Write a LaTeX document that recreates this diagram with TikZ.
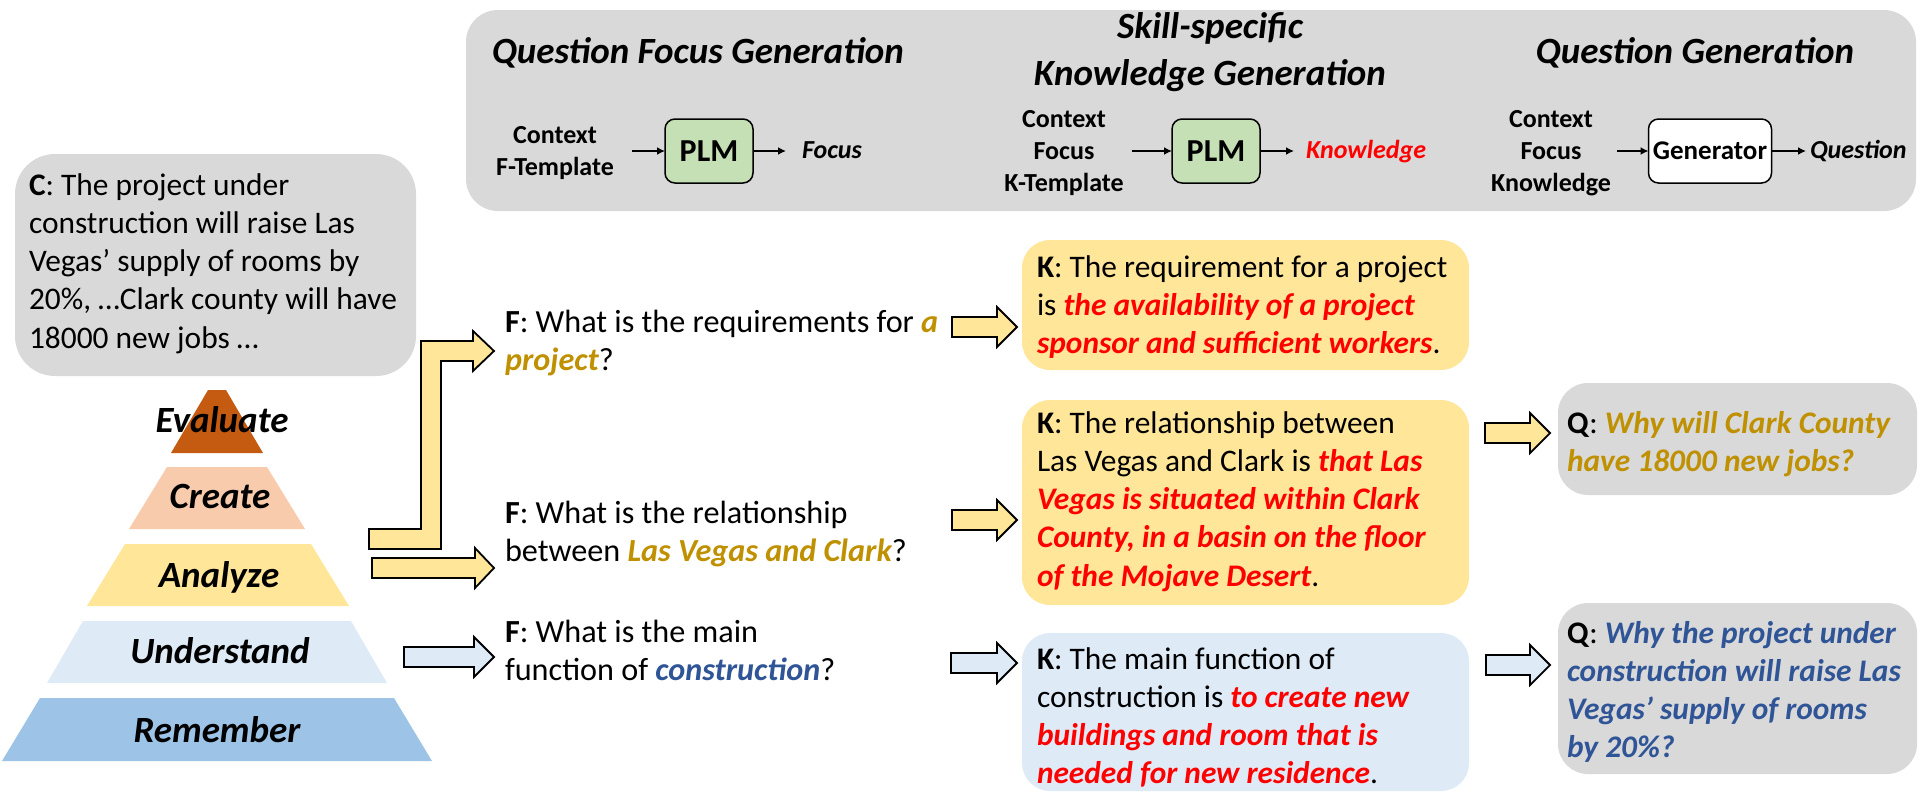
\documentclass[tikz,border=0pt]{standalone}
\usepackage{fontspec}
\setmainfont{Carlito}
\usetikzlibrary{arrows.meta}

% palette
\definecolor{boxgray}{HTML}{D9D9D9}
\definecolor{plmgreen}{HTML}{C5E0B4}
\definecolor{kyellow}{HTML}{FFE699}
\definecolor{kblue}{HTML}{DEEBF7}
\definecolor{redtxt}{HTML}{FF0000}
\definecolor{goldtxt}{HTML}{BF9000}
\definecolor{bluetxt}{HTML}{2F5597}
\definecolor{evalc}{HTML}{C55A11}
\definecolor{createc}{HTML}{F8CBAD}
\definecolor{analyzec}{HTML}{FFE699}
\definecolor{underc}{HTML}{DEEBF7}
\definecolor{rememberc}{HTML}{9DC3E6}

% type sizes
\newcommand\bodyfont{\fontsize{31.4pt}{38.3pt}\selectfont}
\newcommand\focusfont{\fontsize{32.2pt}{38.3pt}\selectfont}
\newcommand\headfont{\fontsize{37pt}{47pt}\selectfont\bfseries\itshape}
\newcommand\tagfont{\fontsize{26pt}{32pt}\selectfont\bfseries}
\newcommand\modelfont{\fontsize{32pt}{38pt}\selectfont\bfseries}

% multi-line text whose baseline is the first line
\newcommand\lines[1]{\begin{tabular}[t]{@{}l@{}}#1\end{tabular}}
\newcommand\clines[1]{\begin{tabular}[t]{@{}c@{}}#1\end{tabular}}

% highlighted phrases
\newcommand\hlred[1]{\textcolor{redtxt}{\bfseries\itshape #1}}
\newcommand\hlgold[1]{\textcolor{goldtxt}{\bfseries\itshape #1}}
\newcommand\hlblue[1]{\textcolor{bluetxt}{\bfseries\itshape #1}}

% outlined block arrow: fill, tail x, tip x, centre y, head base x
\newcommand\blockarrow[5]{%
  \draw[blockline, fill=#1] (#2,#4-10) -- (#5,#4-10) -- (#5,#4-20) -- (#3,#4)
    -- (#5,#4+20) -- (#5,#4+10) -- (#2,#4+10) -- cycle;}

\tikzset{
  panel/.style={fill=#1, draw=none, inner sep=0pt, outer sep=0pt, anchor=north west, rounded corners=28pt},
  textblock/.style={anchor=base west, inner sep=0pt, outer sep=0pt, font=\bodyfont},
  heading/.style={anchor=base, inner sep=0pt, outer sep=0pt, font=\headfont},
  tag/.style={anchor=base, inner sep=0pt, outer sep=0pt, font=\tagfont},
  model/.style={draw=black, line width=1.5pt, rounded corners=10pt, minimum height=64pt,
                inner sep=0pt, outer sep=0pt, font=\modelfont},
  flow/.style={-{Latex[length=8pt,width=8pt]}, line width=1.8pt},
  blockline/.style={draw=black, line width=1.8pt, line join=miter},
  level/.style={anchor=base, inner sep=0pt, outer sep=0pt, font=\headfont},
}

\begin{document}
\begin{tikzpicture}[x=1pt,y=-1pt]
\useasboundingbox (0,0) rectangle (1923,796);

% ---------- pipeline panel ----------
\node[panel=boxgray, minimum width=1450pt, minimum height=201pt, rounded corners=32pt] (stages) at (466,10) {};

\node[heading] (hfocus) at (698,63) {Question Focus Generation};
\node[heading] (hknow) at (1210,38) {\clines{Skill-specific\\Knowledge Generation}};
\node[heading] (hquest) at (1695,63) {Question Generation};

\node[tag] (in1) at (555,143) {\clines{Context\\F-Template}};
\node[model, fill=plmgreen, minimum width=88pt] (plm1) at (709,151) {PLM};
\node[tag, anchor=base west, font=\tagfont\itshape] (out1) at (802,158) {Focus};
\draw[flow, shorten <=18pt] (plm1.west -| in1.east) -- (plm1.west);
\draw[flow, shorten >=16pt] (plm1.east) -- (plm1.east -| out1.west);

\node[tag] (in2) at (1064,127) {\clines{Context\\Focus\\K-Template}};
\node[model, fill=plmgreen, minimum width=88pt] (plm2) at (1216,151) {PLM};
\node[tag, anchor=base west, font=\tagfont\itshape, text=redtxt] (out2) at (1306,158) {Knowledge};
\draw[flow, shorten <=8pt] (plm2.west -| in2.east) -- (plm2.west);
\draw[flow, shorten >=12pt] (plm2.east) -- (plm2.east -| out2.west);

\node[tag] (in3) at (1551,127) {\clines{Context\\Focus\\Knowledge}};
\node[model, fill=white, minimum width=123pt, font=\fontsize{27pt}{32pt}\selectfont\bfseries] (gen) at (1710,151) {Generator};
\node[tag, anchor=base west, font=\tagfont\itshape] (out3) at (1810,158) {Question};
\draw[flow, shorten <=6pt] (gen.west -| in3.east) -- (gen.west);
\draw[flow, shorten >=4pt] (gen.east) -- (gen.east -| out3.west);

% ---------- context ----------
\node[panel=boxgray, minimum width=401pt, minimum height=222pt, rounded corners=40pt] (cbox) at (15,154) {};
\node[textblock] (ctext) at (29,195) {\lines{\textbf{C}: The project under\\
  construction will raise Las\\
  Vegas’ supply of rooms by\\
  20\%, …Clark county will have\\
  18000 new jobs …}};

% ---------- skill pyramid ----------
\fill[evalc]     (208,390) -- (226,390) -- (263,453) -- (171,453) -- cycle;
\fill[createc]   (167,467) -- (267,467) -- (305,529) -- (129,529) -- cycle;
\fill[analyzec]  (125,544) -- (311,544) -- (349,606) -- (87,606) -- cycle;
\fill[underc]    (83,621) -- (351,621) -- (387,683) -- (47,683) -- cycle;
\fill[rememberc] (40,698) -- (394,698) -- (432,761) -- (2,761) -- cycle;

\node[level] (lvevaluate)   at (222,432) {Evaluate};
\node[level] (lvcreate)     at (220,508) {Create};
\node[level] (lvanalyze)    at (219,587) {Analyze};
\node[level] (lvunderstand) at (220,663) {Understand};
\node[level] (lvremember)   at (217,742) {Remember};

% ---------- arrows out of the pyramid ----------
\draw[blockline, fill=kyellow] (369,529) -- (421,529) -- (421,341) -- (473,341) -- (473,331)
  -- (494,351) -- (473,371) -- (473,361) -- (441,361) -- (441,549) -- (369,549) -- cycle;
\blockarrow{kyellow}{372}{494}{568}{475}
\blockarrow{kblue}{404}{494}{657}{474}

% ---------- question focuses ----------
\node[textblock, font=\focusfont] (f1) at (505,332) {\lines{\textbf{F}: What is the requirements for \hlgold{a}\\
  \hlgold{project}?}};
\node[textblock, font=\focusfont] (f2) at (505,523) {\lines{\textbf{F}: What is the relationship\\
  between \hlgold{Las Vegas and Clark}?}};
\node[textblock, font=\focusfont] (f3) at (505,642) {\lines{\textbf{F}: What is the main\\
  function of \hlblue{construction}?}};

\blockarrow{kyellow}{952}{1017}{327}{997}
\blockarrow{kyellow}{952}{1017}{520}{997}
\blockarrow{kblue}{951}{1017}{663}{997}

% ---------- knowledge ----------
\node[panel=kyellow, minimum width=447pt, minimum height=130pt] (k1box) at (1022,240) {};
\node[textblock] (k1) at (1037,277) {\lines{\textbf{K}: The requirement for a project\\
  is \hlred{the availability of a project}\\
  \hlred{sponsor and sufficient workers}.}};

\node[panel=kyellow, minimum width=447pt, minimum height=205pt] (k2box) at (1022,400) {};
\node[textblock] (k2) at (1037,433) {\lines{\textbf{K}: The relationship between\\
  Las Vegas and Clark is \hlred{that Las}\\
  \hlred{Vegas is situated within Clark}\\
  \hlred{County, in a basin on the floor}\\
  \hlred{of the Mojave Desert}.}};

\node[panel=kblue, minimum width=447pt, minimum height=158pt] (k3box) at (1022,633) {};
\node[textblock] (k3) at (1037,669) {\lines{\textbf{K}: The main function of\\
  construction is \hlred{to create new}\\
  \hlred{buildings and room that is}\\
  \hlred{needed for new residence}.}};

\blockarrow{kyellow}{1485}{1550}{433}{1530}
\blockarrow{kblue}{1486}{1550}{665}{1530}

% ---------- generated questions ----------
\node[panel=boxgray, minimum width=359pt, minimum height=112pt, rounded corners=30pt] (q1box) at (1558,383) {};
\node[textblock] (q1) at (1567,433) {\lines{\textbf{Q}: \hlgold{Why will Clark County}\\
  \hlgold{have 18000 new jobs?}}};

\node[panel=boxgray, minimum width=359pt, minimum height=171pt, rounded corners=30pt] (q2box) at (1558,603) {};
\node[textblock] (q2) at (1567,643) {\lines{\textbf{Q}: \hlblue{Why the project under}\\
  \hlblue{construction will raise Las}\\
  \hlblue{Vegas’ supply of rooms}\\
  \hlblue{by 20\%?}}};
\end{tikzpicture}
\end{document}
